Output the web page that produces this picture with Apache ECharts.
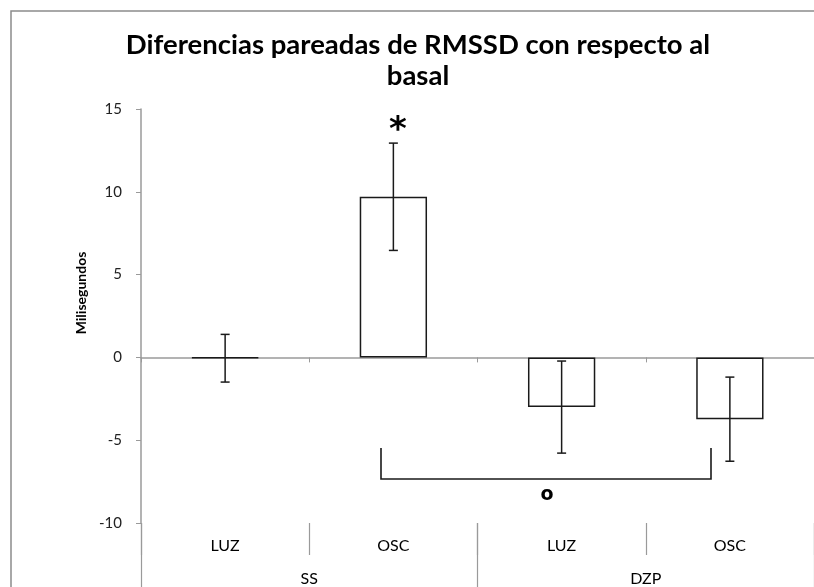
<!DOCTYPE html>
<html>
<head>
<meta charset="utf-8">
<script src="https://cdn.jsdelivr.net/npm/echarts@6/dist/echarts.min.js"></script>
<style>
  html, body { margin: 0; padding: 0; background: #fff; }
  #chart { width: 814px; height: 587px; }
</style>
</head>
<body>
<div id="chart"></div>
<script>
// Paired RMSSD differences versus baseline, by condition and treatment group
const conditions = ['LUZ', 'OSC', 'LUZ', 'OSC'];
const groups = ['SS', 'DZP'];
const meanDiff = [-0.05, 9.7, -3.0, -3.73];
const stdErr = [1.44, 3.24, 2.78, 2.54];
const yTicks = { min: -10, max: 15, step: 5 };

const FONT = 'Lato, "Open Sans", sans-serif';
const AXIS_GREY = '#9a9a9a';
const INK = '#1a1a1a';

const errorData = meanDiff.map((m, i) => [i, m - stdErr[i], m + stdErr[i]]);

const chart = echarts.init(document.getElementById('chart'), null, { renderer: 'canvas' });

const option = {
  animation: false,
  backgroundColor: '#fff',
  textStyle: { fontFamily: FONT },
  title: {
    text: 'Diferencias pareadas de RMSSD con respecto al\nbasal',
    left: 413,
    textAlign: 'center',
    top: 25,
    textStyle: { fontFamily: FONT, fontWeight: 'bold', fontSize: 27.5, lineHeight: 31, color: '#000' }
  },
  grid: { left: 141, top: 109, width: 680, height: 420, containLabel: false },
  xAxis: [
    {
      // axis drawn through zero, with tick marks between the bars
      type: 'category',
      data: conditions,
      position: 'bottom',
      axisLine: { onZero: true, lineStyle: { color: AXIS_GREY, width: 1.5 } },
      axisTick: { show: true, length: 5, lineStyle: { color: AXIS_GREY } },
      axisLabel: { show: false },
      splitLine: { show: false }
    },
    {
      // first label level: condition
      type: 'category',
      data: conditions,
      position: 'bottom',
      axisLine: { show: false, onZero: false },
      axisTick: { show: true, length: 32, lineStyle: { color: AXIS_GREY, width: 1.2 } },
      axisLabel: { show: true, margin: 15, fontSize: 16, color: '#000', fontFamily: FONT },
      splitLine: { show: false }
    },
    {
      // second label level: group
      type: 'category',
      data: groups,
      position: 'bottom',
      axisLine: { show: false, onZero: false },
      axisTick: { show: true, length: 70, lineStyle: { color: AXIS_GREY, width: 1.2 } },
      axisLabel: { show: true, margin: 48, fontSize: 16, color: '#000', fontFamily: FONT },
      splitLine: { show: false }
    }
  ],
  yAxis: {
    type: 'value',
    min: yTicks.min,
    max: yTicks.max,
    interval: yTicks.step,
    name: 'Milisegundos',
    nameLocation: 'middle',
    nameGap: 44,
    nameRotate: 90,
    nameTextStyle: { fontFamily: FONT, fontWeight: 'bold', fontSize: 14, color: '#000', padding: [0, 0, 0, 46] },
    axisLine: { show: true, lineStyle: { color: AXIS_GREY, width: 1.5 } },
    axisTick: { show: true, length: 5, lineStyle: { color: AXIS_GREY } },
    axisLabel: { fontSize: 15, color: '#222', margin: 19, fontFamily: FONT },
    splitLine: { show: false }
  },
  series: [
    {
      type: 'bar',
      xAxisIndex: 0,
      data: meanDiff,
      barWidth: '40%',
      itemStyle: { color: '#fff', borderColor: INK, borderWidth: 1.5 },
      z: 3
    },
    {
      type: 'custom',
      xAxisIndex: 0,
      data: errorData,
      z: 5,
      renderItem: function (params, api) {
        const x = api.value(0);
        const lo = api.coord([x, api.value(1)]);
        const hi = api.coord([x, api.value(2)]);
        const cap = 4.5;
        const style = { stroke: INK, lineWidth: 1.5 };
        return {
          type: 'group',
          children: [
            { type: 'line', shape: { x1: hi[0], y1: hi[1], x2: lo[0], y2: lo[1] }, style },
            { type: 'line', shape: { x1: hi[0] - cap, y1: hi[1], x2: hi[0] + cap, y2: hi[1] }, style },
            { type: 'line', shape: { x1: lo[0] - cap, y1: lo[1], x2: lo[0] + cap, y2: lo[1] }, style }
          ]
        };
      }
    }
  ],
  graphic: [
    {
      // chart frame
      type: 'rect',
      shape: { x: 11, y: 11, width: 900, height: 700 },
      style: { fill: 'none', stroke: '#8c8c8c', lineWidth: 1.5 },
      silent: true, z: -1
    },
    {
      type: 'text',
      x: 398, y: 131,
      style: { text: '*', fontSize: 34, fontWeight: 'bold', fontFamily: 'DejaVu Sans', fill: '#000', align: 'center', verticalAlign: 'middle' }
    },
    {
      // comparison bracket between the SS·OSC and DZP·OSC groups
      type: 'polyline',
      shape: { points: [[381, 448], [381, 479], [711, 479], [711, 448]] },
      style: { fill: 'none', stroke: INK, lineWidth: 1.6 }
    },
    {
      type: 'text',
      x: 547, y: 495,
      style: { text: 'o', fontSize: 19, fontWeight: 'bold', fontFamily: 'DejaVu Sans', fill: '#000', align: 'center', verticalAlign: 'middle' }
    }
  ]
};

chart.setOption(option);
</script>
</body>
</html>
